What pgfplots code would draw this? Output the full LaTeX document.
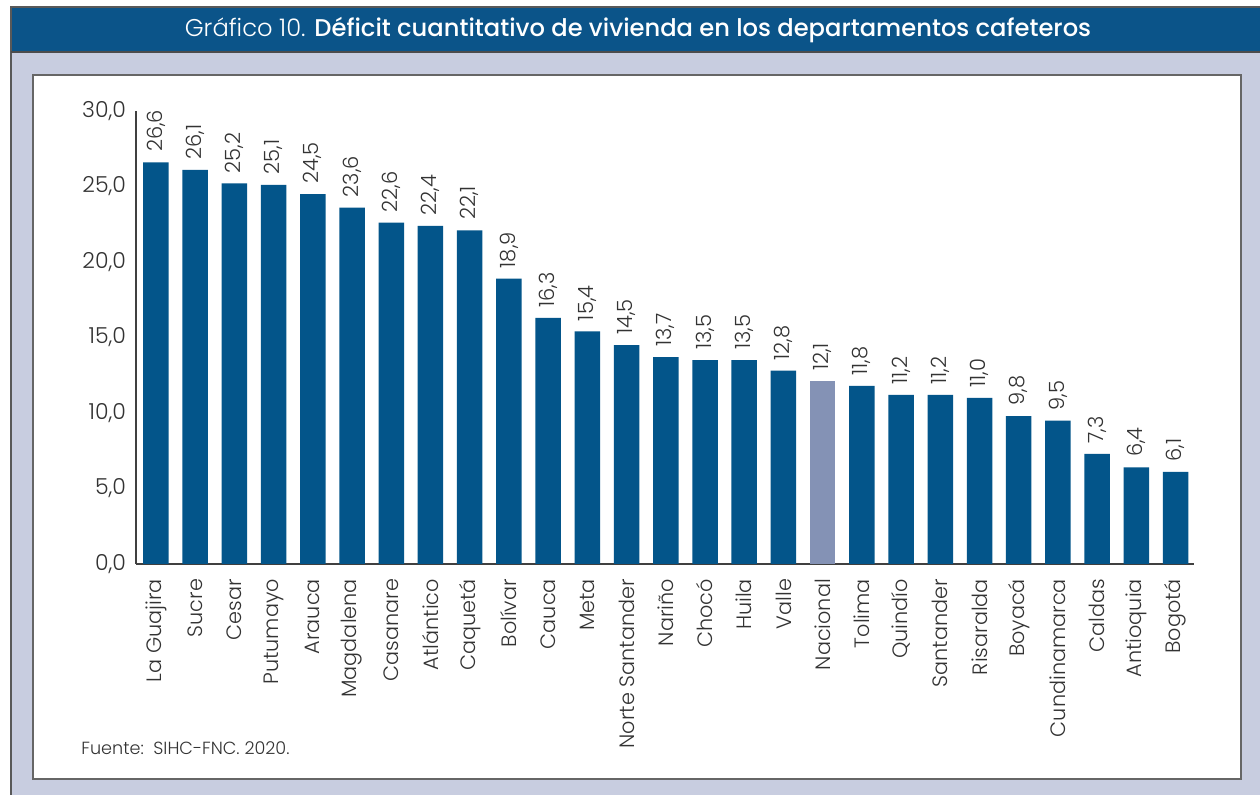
\documentclass[border=0pt]{standalone}
\usepackage{fontspec}
\setmainfont{Poppins}[UprightFont=* Light, BoldFont=* Medium]
\usepackage{pgfplots}
\pgfplotsset{compat=1.18}
\definecolor{barblue}{HTML}{03558A}
\definecolor{titleblue}{HTML}{0B5489}
\definecolor{natl}{HTML}{8492B5}
\definecolor{framefill}{HTML}{C8CDE0}
\definecolor{txt}{HTML}{333333}
\begin{document}
\begin{tikzpicture}[x=1pt,y=1pt]
\fill[white] (-68,-115.5) rectangle (562,282);
\useasboundingbox (-68,-115.5) rectangle (562,282);
\fill[framefill] (-62.5,-115.5) rectangle (562,256);
\fill[titleblue] (-62.5,256) rectangle (562,278.5);
\draw[black!65, line width=0.8pt] (-62.5,-115.5) -- (-62.5,278.5) -- (562,278.5);
\draw[black!70, line width=0.6pt] (-62.5,256) -- (562,256);
\fill[white] (-51.5,-107.5) rectangle (552.5,244.5);
\draw[black!60, line width=0.8pt] (-51.5,-107.5) rectangle (552.5,244.5);
\node[white, font=\fontsize{12.1}{15}\selectfont] at (251,267) {Gráfico 10. \textbf{Déficit cuantitativo de vivienda en los departamentos cafeteros}};
\node[anchor=west, text=txt, font=\fontsize{8.8}{10}\selectfont, inner sep=0pt] at (-27.5,-92) {Fuente:\ \ SIHC-FNC. 2020.};
\begin{axis}[
  at={(0,0)}, anchor=south west,
  width=529pt, height=226.5pt, scale only axis,
  xmin=-0.51, xmax=26.47, ymin=0, ymax=30,
  enlargelimits=false, clip=false,
  ybar, bar width=12.75pt, bar shift=0pt,
  axis x line*=bottom, axis y line*=left,
  axis line style={black!75, line width=0.6pt},
  major tick length=0pt,
  ytick={0,5,...,30},
  xtick={0,...,26},
  xticklabels={La Guajira,Sucre,Cesar,Putumayo,Arauca,Magdalena,Casanare,Atlántico,Caquetá,Bolívar,Cauca,Meta,Norte Santander,Nariño,Chocó,Huila,Valle,Nacional,Tolima,Quindío,Santander,Risaralda,Boyacá,Cundinamarca,Caldas,Antioquia,Bogotá},
  /pgf/number format/.cd, use comma, fixed, fixed zerofill, precision=1, assume math mode=true, /pgfplots/.cd,
  y tick label style={xshift=-1.5pt, font=\fontsize{11}{13}\selectfont, text=txt},
  x tick label style={yshift=-4pt, rotate=90, anchor=east, font=\fontsize{10.4}{12}\selectfont, text=txt},
  nodes near coords,
  nodes near coords style={rotate=90, anchor=west, inner sep=5pt, font=\fontsize{10.5}{12}\selectfont, text=txt},
]
\addplot[fill=barblue, draw=none] coordinates {
(0,26.6) (1,26.1) (2,25.2) (3,25.1) (4,24.5) (5,23.6) (6,22.6) (7,22.4) (8,22.1) (9,18.9)
(10,16.3) (11,15.4) (12,14.5) (13,13.7) (14,13.5) (15,13.5) (16,12.8)
(18,11.8) (19,11.2) (20,11.2) (21,11.0) (22,9.8) (23,9.5) (24,7.3) (25,6.4) (26,6.1)};
\addplot[fill=natl, draw=none] coordinates {(17,12.1)};
\end{axis}
\end{tikzpicture}
\end{document}
